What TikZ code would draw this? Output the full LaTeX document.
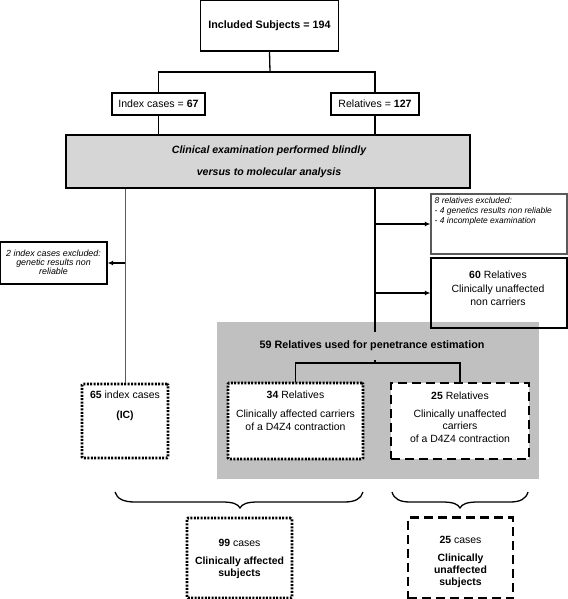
\documentclass[tikz,border=0pt]{standalone}
\usepackage{fontspec}
\setmainfont{Liberation Sans}
\usetikzlibrary{arrows.meta}
\definecolor{grayA}{RGB}{214,214,214}
\definecolor{grayB}{RGB}{192,192,192}
\definecolor{edgegray}{RGB}{90,90,90}
\tikzset{
  box/.style={draw, line width=1.3bp, inner sep=0pt},
  dotbox/.style={draw, line width=2.6bp, dash pattern=on 2bp off 1.4bp, inner sep=0pt, rounded corners=1bp},
  dashbox/.style={draw, line width=2.8bp, dash pattern=on 9bp off 5bp, inner sep=0pt},
  txt/.style={inner sep=0pt, align=center, font=\fontsize{10.5}{13}\selectfont},
  smalltxt/.style={inner sep=0pt, font=\fontsize{8.5}{10}\selectfont\itshape},
  conn/.style={line width=1.3bp},
  arr/.style={line width=1.3bp, -{Latex[length=5.5bp,width=5bp]}},
}
\begin{document}
\begin{tikzpicture}[x=1bp,y=-1bp]
\useasboundingbox (0,0) rectangle (568,599);
% top
\node[box, minimum width=138bp, minimum height=51bp, font=\fontsize{10.8}{12}\selectfont\bfseries] (top) at (269.5,25.5) {Included Subjects = 194};
\node[box, minimum width=93bp, minimum height=22bp, font=\fontsize{10.6}{12}\selectfont] (idx) at (158.5,104) {Index cases = \textbf{67}};
\node[box, minimum width=88bp, minimum height=22bp, font=\fontsize{10.6}{12}\selectfont] (rel) at (375,104) {Relatives = \textbf{127}};
\coordinate (j1) at (270,72);
\draw[conn] (top.south) -- (j1);
\draw[conn] (idx.north) |- (j1) -| (rel.north);
% clinical box
\node[box, fill=grayA, minimum width=404bp, minimum height=53bp] (clin) at (268,161.5) {};
\node[inner sep=0pt, align=center, font=\fontsize{10.6}{22}\selectfont\bfseries\itshape] (clintxt) at (269,162) {Clinical examination performed blindly\\versus to molecular analysis};
\draw[conn] (idx.south) -- (idx.south |- clin.north);
\draw[conn] (rel.south) -- (rel.south |- clin.north);
% big gray
\node[fill=grayB, minimum width=322bp, minimum height=157bp, inner sep=0pt] (big) at (378,400.5) {};
\node[txt, font=\fontsize{10.8}{12}\selectfont\bfseries] (title) at (372,346) {59 Relatives used for penetrance estimation};
% exclusions
\node[box, minimum width=107bp, minimum height=42bp] (excl2) at (53.5,263) {};
\node[smalltxt, align=center, font=\fontsize{8.9}{9.2}\selectfont\itshape] (excl2t) at (53.5,262) {2 index cases excluded:\\genetic results non\\reliable};
\node[box, draw=edgegray, minimum width=136bp, minimum height=60bp] (excl8) at (499,224) {};
\node[smalltxt, align=left, anchor=north west] (excl8t) at (434.5,197.5) {8 relatives excluded:\\- 4 genetics results non reliable\\- 4 incomplete examination};
\node[box, minimum width=136bp, minimum height=70bp] (rel60) at (499,293) {};
\node[txt, font=\fontsize{10.5}{13.5}\selectfont] (rel60t) at (498,288.5) {\textbf{60} Relatives\\Clinically unaffected\\non carriers};
% lower boxes
\node[dotbox, fill=white, minimum width=86bp, minimum height=74bp] (ic) at (125,421) {};
\node[txt] (ict) at (125,406) {\textbf{65} index cases\\[7pt]\textbf{(IC)}};
\node[dotbox, fill=white, minimum width=135bp, minimum height=76bp] (r34) at (295.5,421) {};
\node[txt] (r34t) at (295.5,411) {\textbf{34} Relatives\\[6pt]Clinically affected carriers\\of a D4Z4 contraction};
\node[dashbox, fill=white, minimum width=138bp, minimum height=76bp] (r25) at (460,421) {};
\node[txt, font=\fontsize{10.5}{12.5}\selectfont] (r25t) at (460,417) {\textbf{25} Relatives\\[6pt]Clinically unaffected\\carriers\\of a D4Z4 contraction};
\node[dotbox, minimum width=105bp, minimum height=80bp] (c99) at (239.5,558) {};
\node[txt, font=\fontsize{10.5}{12}\selectfont] (c99t) at (239.5,558.5) {\textbf{99} cases\\[6pt]\textbf{Clinically affected}\\\textbf{subjects}};
\node[dashbox, minimum width=105bp, minimum height=81bp] (c25) at (460.5,558) {};
\node[txt, font=\fontsize{10.5}{12}\selectfont] (c25t) at (460.5,562) {\textbf{25} cases\\[6pt]\textbf{Clinically}\\\textbf{unaffected}\\\textbf{subjects}};
% connectors
\draw[line width=1bp, draw=edgegray] (ic.north |- clin.south) -- (ic.north);
\draw[arr] (ic.north |- excl2.east) -- (excl2.east);
\coordinate (stem) at (375,332);
\draw[conn] (rel.south |- clin.south) -- (stem);
\draw[arr] (rel.south |- excl8.west) -- (excl8.west);
\draw[arr] (rel.south |- rel60.west) -- (rel60.west);
\coordinate (j2) at (375,363);
\coordinate (j2top) at (375,359.5);
\draw[conn] (j2top) -- (j2);
\draw[conn] (r34.north) |- (j2) -| (r25.north);
% braces
\coordinate (bl1) at (115,492); \coordinate (bl2) at (363,492); \coordinate (blt) at (240,508);
\coordinate (br1) at (392,492); \coordinate (br2) at (528,492); \coordinate (brt) at (460,508);
\draw[conn] (bl1) .. controls (117,499) and (124,502) .. (135,502) -- (222,502)
  .. controls (233,502) and (238,504) .. (blt) .. controls (242,504) and (247,502) .. (258,502)
  -- (344,502) .. controls (355,502) and (361,499) .. (bl2);
\draw[conn] (br1) .. controls (394,499) and (400,502) .. (410,502) -- (442,502)
  .. controls (453,502) and (458,504) .. (brt) .. controls (462,504) and (467,502) .. (478,502)
  -- (510,502) .. controls (520,502) and (526,499) .. (br2);
\end{tikzpicture}
\end{document}
